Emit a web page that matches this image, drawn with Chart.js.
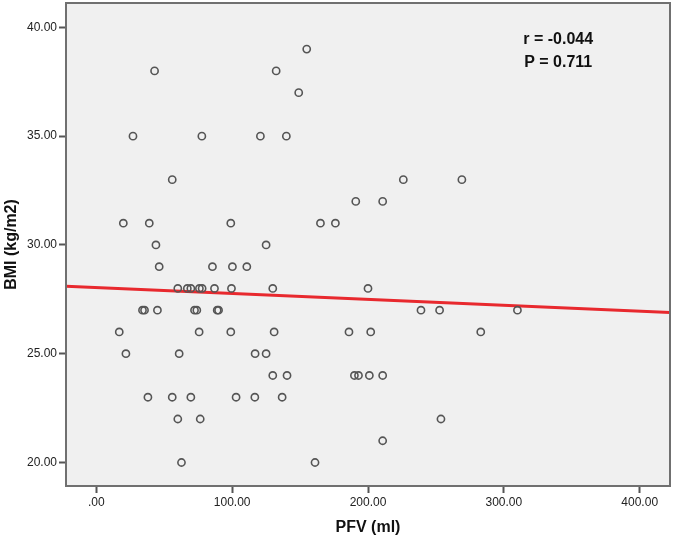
<!DOCTYPE html>
<html>
<head>
<meta charset="utf-8">
<script src="https://cdn.jsdelivr.net/npm/chart.js@4.4.1/dist/chart.umd.min.js"></script>
<style>
  html, body { margin: 0; padding: 0; background: #fff; }
  canvas { display: block; }
</style>
</head>
<body>
<canvas id="bmiChart" width="674" height="539"></canvas>
<script>
// PFV (ml) vs BMI (kg/m2)
const pfv = [
  42.9, 27, 77.7, 55.9, 154.9, 132.4, 149, 120.8, 139.9, 226, 269.1, 191, 210.8,
  99, 165, 176, 19.9, 39, 125, 43.9, 100.2, 110.8, 46.3, 85.5,
  99.5, 129.9, 200, 60, 67, 69.6, 75.9, 77.9, 87,
  239, 252.7, 310, 34, 35.5, 45, 72.3, 74, 89, 90,
  99, 130.9, 186, 202, 283, 16.9, 75.7,
  116.9, 125, 21.8, 61,
  129.9, 140.4, 190, 193, 201, 210.8,
  102.9, 116.7, 136.8, 38, 55.9, 69.6,
  253.7, 60, 76.5, 210.8, 161, 62.7
];
const bmi = [
  38, 35, 35, 33, 39, 38, 37, 35, 35, 33, 33, 32, 32,
  31, 31, 31, 31, 31, 30, 30, 29, 29, 29, 29,
  28, 28, 28, 28, 28, 28, 28, 28, 28,
  27, 27, 27, 27, 27, 27, 27, 27, 27, 27,
  26, 26, 26, 26, 26, 26, 26,
  25, 25, 25, 25,
  24, 24, 24, 24, 24, 24,
  23, 23, 23, 23, 23, 23,
  22, 22, 22, 21, 20, 20
];
// fitted line end points
const regX = [-22.3, 422.3];
const regY = [28.10, 26.90];
const statLines = ['r = -0.044', 'P = 0.711'];

const xRange = [-22.3, 422.3];
const yRange = [18.92, 41.12];

const framePlugin = {
  id: 'frame',
  beforeDraw(chart) {
    const { ctx, chartArea: a } = chart;
    ctx.save();
    ctx.fillStyle = '#f0f0f0';
    ctx.fillRect(a.left, a.top, a.right - a.left, a.bottom - a.top);
    ctx.restore();
  },
  afterDraw(chart) {
    const { ctx, chartArea: a } = chart;
    ctx.save();
    ctx.strokeStyle = '#707070';
    ctx.lineWidth = 2;
    ctx.strokeRect(a.left, a.top, a.right - a.left, a.bottom - a.top);
    // r / P annotation
    ctx.fillStyle = '#111';
    ctx.font = 'bold 16px "Liberation Sans", Arial, sans-serif';
    ctx.textAlign = 'center';
    ctx.textBaseline = 'middle';
    const cx = chart.scales.x.getPixelForValue(340);
    statLines.forEach((t, i) => ctx.fillText(t, cx, a.top + 37 + i * 23));
    ctx.restore();
  }
};

const fmt = v => v.toFixed(2).replace(/^0\./, '.');

const ctx = document.getElementById('bmiChart').getContext('2d');
new Chart(ctx, {
  type: 'scatter',
  data: {
    datasets: [
      {
        label: 'BMI',
        data: pfv.map((x, i) => ({ x, y: bmi[i] })),
        pointStyle: 'circle',
        pointRadius: 3.6,
        pointBorderWidth: 1.6,
        pointBorderColor: '#555',
        pointBackgroundColor: 'rgba(0,0,0,0)',
        order: 0
      },
      {
        type: 'line',
        label: 'Fit',
        data: regX.map((x, i) => ({ x, y: regY[i] })),
        borderColor: '#e8292e',
        borderWidth: 3,
        pointRadius: 0,
        order: 1
      }
    ]
  },
  options: {
    responsive: false,
    animation: false,
    layout: { autoPadding: false, padding: { left: 0, top: 3, right: 4, bottom: 0 } },
    plugins: { legend: { display: false }, tooltip: { enabled: false } },
    scales: {
      x: {
        type: 'linear',
        min: xRange[0],
        max: xRange[1],
        afterFit(s) { s.height = 53; s.paddingLeft = 0; s.paddingRight = 0; },
        ticks: {
          stepSize: 100,
          includeBounds: false,
          padding: 2,
          color: '#222',
          font: { family: '"Liberation Sans", Arial, sans-serif', size: 12 },
          callback: v => fmt(v)
        },
        grid: { drawOnChartArea: false, drawTicks: true, tickLength: 7, tickColor: '#555', tickWidth: 2 },
        border: { display: true, color: '#707070', width: 2 },
        title: {
          display: true,
          text: 'PFV (ml)',
          color: '#111',
          padding: { top: 0, bottom: 2 },
          font: { family: '"Liberation Sans", Arial, sans-serif', size: 16, weight: 'bold' }
        }
      },
      y: {
        type: 'linear',
        min: yRange[0],
        max: yRange[1],
        afterFit(s) { s.width = 66; s.paddingTop = 0; s.paddingBottom = 0; },
        ticks: {
          stepSize: 5,
          includeBounds: false,
          padding: 2,
          color: '#222',
          font: { family: '"Liberation Sans", Arial, sans-serif', size: 12 },
          callback: v => fmt(v)
        },
        grid: { drawOnChartArea: false, drawTicks: true, tickLength: 7, tickColor: '#555', tickWidth: 2 },
        border: { display: true, color: '#707070', width: 2 },
        title: {
          display: true,
          text: 'BMI (kg/m2)',
          color: '#111',
          padding: { top: 2, bottom: 0 },
          font: { family: '"Liberation Sans", Arial, sans-serif', size: 16, weight: 'bold' }
        }
      }
    }
  },
  plugins: [framePlugin]
});
</script>
</body>
</html>
